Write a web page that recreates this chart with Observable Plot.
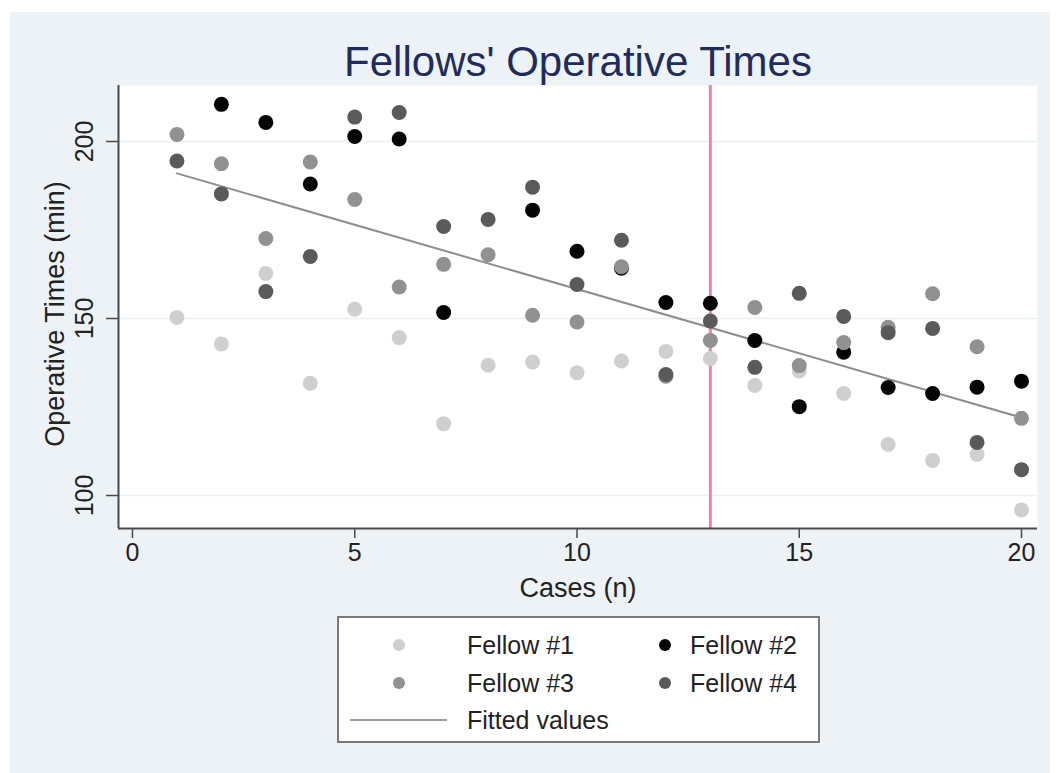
<!DOCTYPE html>
<html>
<head>
<meta charset="utf-8">
<script src="https://cdn.jsdelivr.net/npm/d3@7"></script>
<script src="https://cdn.jsdelivr.net/npm/@observablehq/plot@0.6"></script>
<style>
  html, body { margin: 0; padding: 0; background: #ffffff; }
  #wrap { position: relative; width: 1060px; height: 773px; overflow: hidden; font-family: "Liberation Sans", Arial, sans-serif; }
  #bg { position: absolute; left: 10px; top: 12px; width: 1040px; height: 761px; background: #ecf2f5; }
  #chart { position: absolute; left: 0; top: 0; }
  #legend { position: absolute; left: 337px; top: 616px; width: 479px; height: 123px; border: 2px solid #7a7a7a; background: #ffffff; }
  .lt { position: absolute; height: 30px; line-height: 30px; font-size: 25px; color: #222; white-space: nowrap; }
  .lm { position: absolute; width: 12px; height: 12px; border-radius: 50%; }
  .ll { position: absolute; height: 2px; }
</style>
</head>
<body>
<div id="wrap">
  <div id="bg"></div>
  <div id="chart"></div>
  <div id="legend"></div>
</div>
<script>
// ---- data ----
const cases = [1,2,3,4,5,6,7,8,9,10,11,12,13,14,15,16,17,18,19,20];
const fellow1 = [150.3,142.8,162.7,131.7,152.6,144.6,120.3,136.8,137.7,134.7,138.0,140.7,138.7,131.1,135.2,128.8,114.4,109.9,111.6,95.9];
const fellow2 = [null,210.5,205.4,188.0,201.4,200.7,151.7,null,180.6,169.0,164.2,154.5,154.3,143.8,125.1,140.5,130.5,128.8,130.6,132.3];
const fellow3 = [202.0,193.7,172.6,194.2,183.6,158.9,165.3,168.0,150.9,149.0,164.6,133.7,143.8,153.1,136.7,143.2,147.5,157.0,142.0,121.8];
const fellow4 = [194.5,185.2,157.6,167.5,206.9,208.2,176.0,178.0,187.1,159.6,172.1,134.2,149.3,136.2,157.1,150.6,146.0,147.2,115.0,107.3];
const seriesNames = ["Fellow #1","Fellow #2","Fellow #3","Fellow #4"];
const seriesColors = ["#cfcfcf","#050505","#919191","#5a5a5a"];
const fittedX = [1, 20];
const fittedY = [191.0, 122.0];
const markerCase = [13];
const xTicks = [0,5,10,15,20];
const yTicks = [100,150,200];
const titleText = "Fellows' Operative Times";
const xLabel = "Cases (n)";
const yLabel = "Operative Times (min)";
const fittedLabel = "Fitted values";

// ---- build table ----
const allSeries = [fellow1, fellow2, fellow3, fellow4];
const points = [];
allSeries.forEach((vals, si) => {
  vals.forEach((v, i) => {
    if (v != null) points.push({ case: cases[i], time: v, series: seriesNames[si] });
  });
});
const fitted = fittedX.map((x, i) => ({ x, y: fittedY[i] }));

const font = "Liberation Sans, Arial, Helvetica, sans-serif";

const plot = Plot.plot({
  width: 1060,
  height: 773,
  marginLeft: 118,
  marginRight: 23,
  marginTop: 85,
  marginBottom: 245,
  style: { background: "transparent", fontFamily: font },
  x: { domain: [0, 20], range: [132, 1021] },
  y: { domain: [100, 200], range: [495, 141] },
  color: { domain: seriesNames, range: seriesColors },
  marks: [
    Plot.frame({ fill: "#ffffff", stroke: null }),
    Plot.ruleY(yTicks, { stroke: "#e9f0f2", strokeWidth: 1.5 }),
    Plot.ruleX(markerCase, { stroke: "#ec86a6", strokeWidth: 3 }),
    Plot.line(fitted, { x: "x", y: "y", stroke: "#8e8e8e", strokeWidth: 2 }),
    Plot.dot(points, { x: "case", y: "time", fill: "series", r: 7.5, stroke: null }),
    // axis lines
    Plot.ruleX([0], { dx: -14, stroke: "#4a4a4a", strokeWidth: 2 }),
    Plot.ruleY([100], { dy: 33, stroke: "#4a4a4a", strokeWidth: 2 }),
    Plot.axisX({ ticks: xTicks, tickSize: 10, tickPadding: 5, fontSize: 25, label: null, stroke: "#4a4a4a", fill: "#222", strokeWidth: 1.5 }),
    Plot.axisY({ ticks: yTicks, tickSize: 12, tickFormat: () => "", label: null, stroke: "#4a4a4a", strokeWidth: 1.5 }),
    Plot.text(yTicks, { y: d => d, text: d => String(d), frameAnchor: "left", dx: -34, rotate: -90, fontSize: 25, fill: "#222", lineAnchor: "middle", textAnchor: "middle" }),
    Plot.text([titleText], { frameAnchor: "top", lineAnchor: "middle", dy: -23, fontSize: 42, fill: "#1f2c5c" }),
    Plot.text([xLabel], { frameAnchor: "bottom", lineAnchor: "middle", dy: 60, fontSize: 27, fill: "#222" }),
    Plot.text([yLabel], { frameAnchor: "left", lineAnchor: "middle", textAnchor: "middle", dx: -63, dy: 7, rotate: -90, fontSize: 27, fill: "#222" })
  ]
});
document.getElementById("chart").appendChild(plot);

// ---- legend ----
const legend = document.getElementById("legend");
const legendItems = [
  { name: seriesNames[0], color: seriesColors[0], mx: 60, tx: 128, cy: 27 },
  { name: seriesNames[1], color: seriesColors[1], mx: 326, tx: 351, cy: 27 },
  { name: seriesNames[2], color: seriesColors[2], mx: 60, tx: 128, cy: 65 },
  { name: seriesNames[3], color: seriesColors[3], mx: 326, tx: 351, cy: 65 }
];
legendItems.forEach(it => {
  const m = document.createElement("div");
  m.className = "lm";
  m.style.left = (it.mx - 6) + "px";
  m.style.top = (it.cy - 6) + "px";
  m.style.background = it.color;
  legend.appendChild(m);
  const t = document.createElement("div");
  t.className = "lt";
  t.style.left = it.tx + "px";
  t.style.top = (it.cy - 15) + "px";
  t.textContent = it.name;
  legend.appendChild(t);
});
const ln = document.createElement("div");
ln.className = "ll";
ln.style.left = "11px";
ln.style.width = "97px";
ln.style.top = "101px";
ln.style.background = "#a0a0a0";
legend.appendChild(ln);
const lt = document.createElement("div");
lt.className = "lt";
lt.style.left = "128px";
lt.style.top = (102 - 15) + "px";
lt.textContent = fittedLabel;
legend.appendChild(lt);
</script>
</body>
</html>
